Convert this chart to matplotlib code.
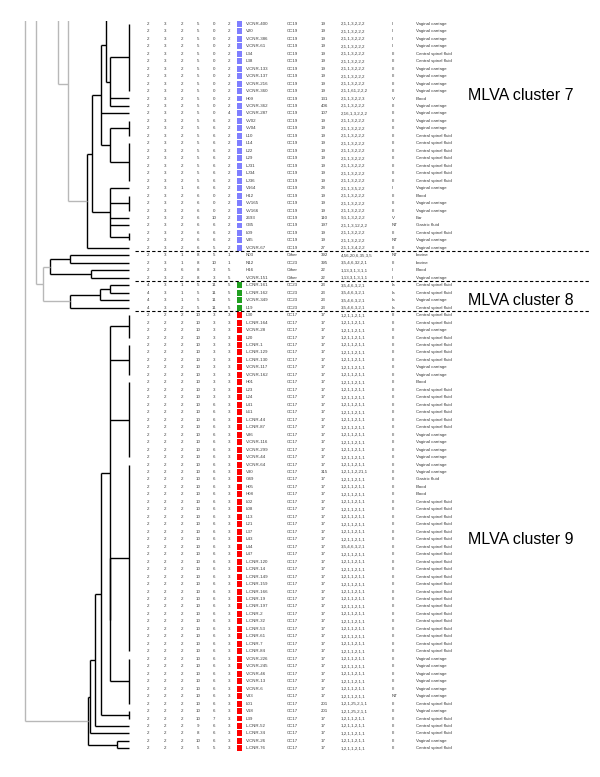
import matplotlib
matplotlib.use("Agg")
import matplotlib.pyplot as plt
from matplotlib.patches import Rectangle

plt.rcParams['font.family'] = ['Liberation Sans', 'DejaVu Sans']

# ---- table data (one entry per row, top to bottom) ----
isolates = [
    "V-CNR-400", "V20", "V-CNR-386", "V-CNR-61", "L34", "L38", "V-CNR-133", "V-CNR-137",
    "V-CNR-216", "V-CNR-360", "H09", "V-CNR-362", "V-CNR-287", "VV02", "VV04", "L10",
    "L14", "L22", "L29", "LJ31", "LJ34", "LJ36", "V164", "H12", "VV165", "VV166",
    "2693", "G35", "L09", "V35", "V-CNR-67",
    "N03", "N12", "H16", "V-CNR-151",
    "L-CNR-161", "L-CNR-162", "V-CNR-349", "L19",
    "L30", "L-CNR-164", "V-CNR-28", "L20", "L-CNR-1", "L-CNR-129", "L-CNR-130",
    "V-CNR-117", "V-CNR-162", "H01", "L23", "L24", "L41", "L61", "L-CNR-44", "L-CNR-87",
    "V86", "V-CNR-116", "V-CNR-299", "V-CNR-44", "V-CNR-64", "V30", "G49", "H05", "H08",
    "L02", "L08", "L13", "L21", "L37", "L43", "L44", "L47", "L-CNR-120", "L-CNR-14",
    "L-CNR-149", "L-CNR-159", "L-CNR-166", "L-CNR-19", "L-CNR-197", "L-CNR-2", "L-CNR-32",
    "L-CNR-53", "L-CNR-61", "L-CNR-7", "L-CNR-84", "V-CNR-226", "V-CNR-245", "V-CNR-46",
    "V-CNR-13", "V-CNR-6", "V33", "L01", "V18", "L39", "L-CNR-52", "L-CNR-34", "V-CNR-26",
    "L-CNR-76",
]
group = ["7"] * 31 + ["o"] * 4 + ["8"] * 4 + ["9"] * 59

cc = ["CC19"] * 31 + ["Other", "CC23", "Other", "Other"] + ["CC23"] * 4 + ["CC17"] * 59

st = (["19"] * 10 + ["131", "406", "107"] + ["19"] * 9 + ["28", "19", "19", "19", "110", "197",
      "19", "19", "27"] + ["392", "395", "22", "22"] + ["23"] * 4
      + ["17"] * 21 + ["315"] + ["17"] * 30 + ["201", "201"] + ["17"] * 5)

p19 = "2,1,1,3,2,2,2"
p17 = "1,2,1,1,2,1,1"
p23 = "3,5,4,6,3,2,1"
profile = ([p19] * 9 + ["2,1,1,61,2,2,2", "2,1,1,3,2,2,3", p19, "2,16,1,3,2,2,2"] + [p19] * 9
           + ["2,1,1,3,5,2,2", p19, p19, p19, "9,1,1,3,2,2,2", "2,1,1,3,12,2,2", p19, p19,
              "2,1,1,3,4,2,2"]
           + ["4,56,20,6,35,3,5", "3,5,4,6,32,2,1", "1,13,3,1,3,1,1", "1,13,3,1,3,1,1"]
           + [p23] * 4
           + [p17] * 21 + ["1,2,1,1,2,21,1"] + [p17] * 9 + [p23] + [p17] * 20
           + ["1,2,1,25,2,1,1", "1,2,1,25,2,1,1"] + [p17] * 5)

serotype = (["II"] * 4 + ["III"] * 6 + ["V", "III", "III"] + ["III"] * 9
            + ["II", "III", "III", "III", "V", "NT", "III", "NT", "III"]
            + ["NT", "III", "II", "II"] + ["Ia"] * 4
            + ["III"] * 51 + ["NT"] + ["III"] * 7)

V, C, B = "Vaginal carriage", "Central spinal fluid", "Blood"
source = ([V, V, V, V, C, C, V, V, V, V, B, V, V, V, V, C, C, C, C, C, C, C, V, B, V, V,
           "Ear", "Gastric fluid", C, V, V]
          + ["bovine", "bovine", B, V] + [C, C, V, C]
          + [C, C, V, C, C, C, C, V, V, B, C, C, C, C, C, C, V, V, V, V, V, V,
             "Gastric fluid", B, B, C, C, C, C, C, C, C, C, C, C, C, C, C, C, C, C, C, C,
             C, C, C, V, V, V, V, V, V, C, V, C, C, C, V, C])

mlva = ([[2, 3, 2, 5, 0, 2]] * 12 + [[2, 3, 2, 5, 0, 4]] + [[2, 3, 2, 5, 6, 2]] * 9
        + [[2, 3, 1, 6, 6, 2]] + [[2, 3, 2, 6, 0, 2]] * 3 + [[2, 3, 2, 6, 10, 2]]
        + [[2, 3, 2, 6, 6, 2]] * 3 + [[2, 3, 2, 6, 5, 2]]
        + [[2, 3, 1, 8, 5, 1], [2, 3, 1, 8, 10, 1], [2, 3, 6, 8, 3, 5], [2, 3, 2, 8, 3, 5]]
        + [[4, 3, 1, 5, 11, 5]] * 3 + [[4, 3, 2, 5, 11, 5]]
        + [[2, 2, 2, 10, 3, 3]] * 12 + [[2, 2, 2, 10, 6, 3]] * 42
        + [[2, 2, 2, 10, 7, 3], [2, 2, 2, 9, 6, 3], [2, 2, 2, 8, 6, 3],
           [2, 2, 2, 10, 6, 3], [2, 2, 2, 5, 5, 3]])

group_colors = {"7": "#7f7fff", "8": "#20a020", "9": "#ff0000"}
cluster_labels = ["MLVA cluster 7", "MLVA cluster 8", "MLVA cluster 9"]
cluster_label_rows = [9.6, 37.0, 69.0]
separator_rows = [30.4, 34.45, 38.5]


# ---- dendrogram: merge distances, leaves are row indices (negative = rows cut off above) ----
def Z(a, b):
    return {"d": 0, "kids": list(range(a, b + 1)), "gray": False}


def N(d, *kids, gray=False):
    return {"d": d, "kids": list(kids), "gray": gray}


cluster7 = N(42,
             N(37,
               N(28,
                 N(23, Z(-3, -1), N(19, Z(0, 9), 10, 11)),
                 12,
                 N(19, Z(13, 15), Z(16, 21))),
               N(19, 22, Z(23, 25), 26, 27, Z(28, 29))),
             30)
others = N(79, N(59, 31, 32), N(38, 33, 34))
cluster8 = N(59, N(29, N(19, 35, 36), 37), 38)
cluster9 = N(41,
             N(39,
               N(34,
                 N(28,
                   N(19, Z(39, 42), Z(43, 47), Z(48, 58), N(18.8, Z(59, 84), Z(85, 91))),
                   Z(92, 93)),
                 94),
               95),
             N(12, 96, 97))

forest = [
    N(104, Z(-40, -30), cluster9, gray=True),
    N(93, Z(-28, -22), N(86, others, cluster8, gray=True), gray=True),
    N(71, Z(-20, -10), N(61, Z(-9, -6), cluster7, gray=True), gray=True),
]

LEAF_X = 129
GRAY = "#b8b8b8"


def draw(ax, node):
    if isinstance(node, int):
        return float(node)
    ys = [draw(ax, k) for k in node["kids"]]
    col = GRAY if node["gray"] else "black"
    x = LEAF_X - node["d"]
    ax.plot([x, x], [min(ys), max(ys)], color=col, lw=1.0, solid_capstyle="butt")
    for k, y in zip(node["kids"], ys):
        kd = 0 if isinstance(k, int) else k["d"]
        kcol = col if isinstance(k, int) or not k["gray"] else GRAY
        ax.plot([x, LEAF_X - kd], [y, y], color=kcol, lw=1.0, solid_capstyle="butt")
    return (min(ys) + max(ys)) / 2


W, H = 600, 777
row0, pitch, top_cut = 23.8, 7.47, 21
fig = plt.figure(figsize=(W / 100, H / 100), dpi=100)
ax = fig.add_axes([0, 0, 1, (H - top_cut) / H])
ax.set_xlim(0, W)
ax.set_ylim((H - row0) / pitch, (top_cut - row0) / pitch)
ax.axis("off")

for tree in forest:
    draw(ax, tree)

txt = dict(fontsize=3.2, color="#3a3a3a", va="center", clip_on=True)
mlva_x = [148, 165, 182, 198, 214, 229]
for r, name in enumerate(isolates):
    for xv, v in zip(mlva_x, mlva[r]):
        ax.text(xv, r, str(v), ha="center", **txt)
    if group[r] in group_colors:
        ax.add_patch(Rectangle((237, r - 0.4), 5.2, 0.8, color=group_colors[group[r]], lw=0))
    ax.text(245.5, r, name, ha="left", **txt)
    ax.text(287, r, cc[r], ha="left", **txt)
    ax.text(321, r, st[r], ha="left", **txt)
    ax.text(341, r, profile[r], ha="left", **txt)
    ax.text(392, r, serotype[r], ha="left", **txt)
    ax.text(416, r, source[r], ha="left", **txt)

for s in separator_rows:
    ax.plot([135, 590], [s, s], color="black", lw=0.8, linestyle=(0, (3, 2)))

for lab, r in zip(cluster_labels, cluster_label_rows):
    ax.text(468, r, lab, fontsize=11.5, ha="left", va="center", color="black")

fig.savefig("out.png", dpi=100)
